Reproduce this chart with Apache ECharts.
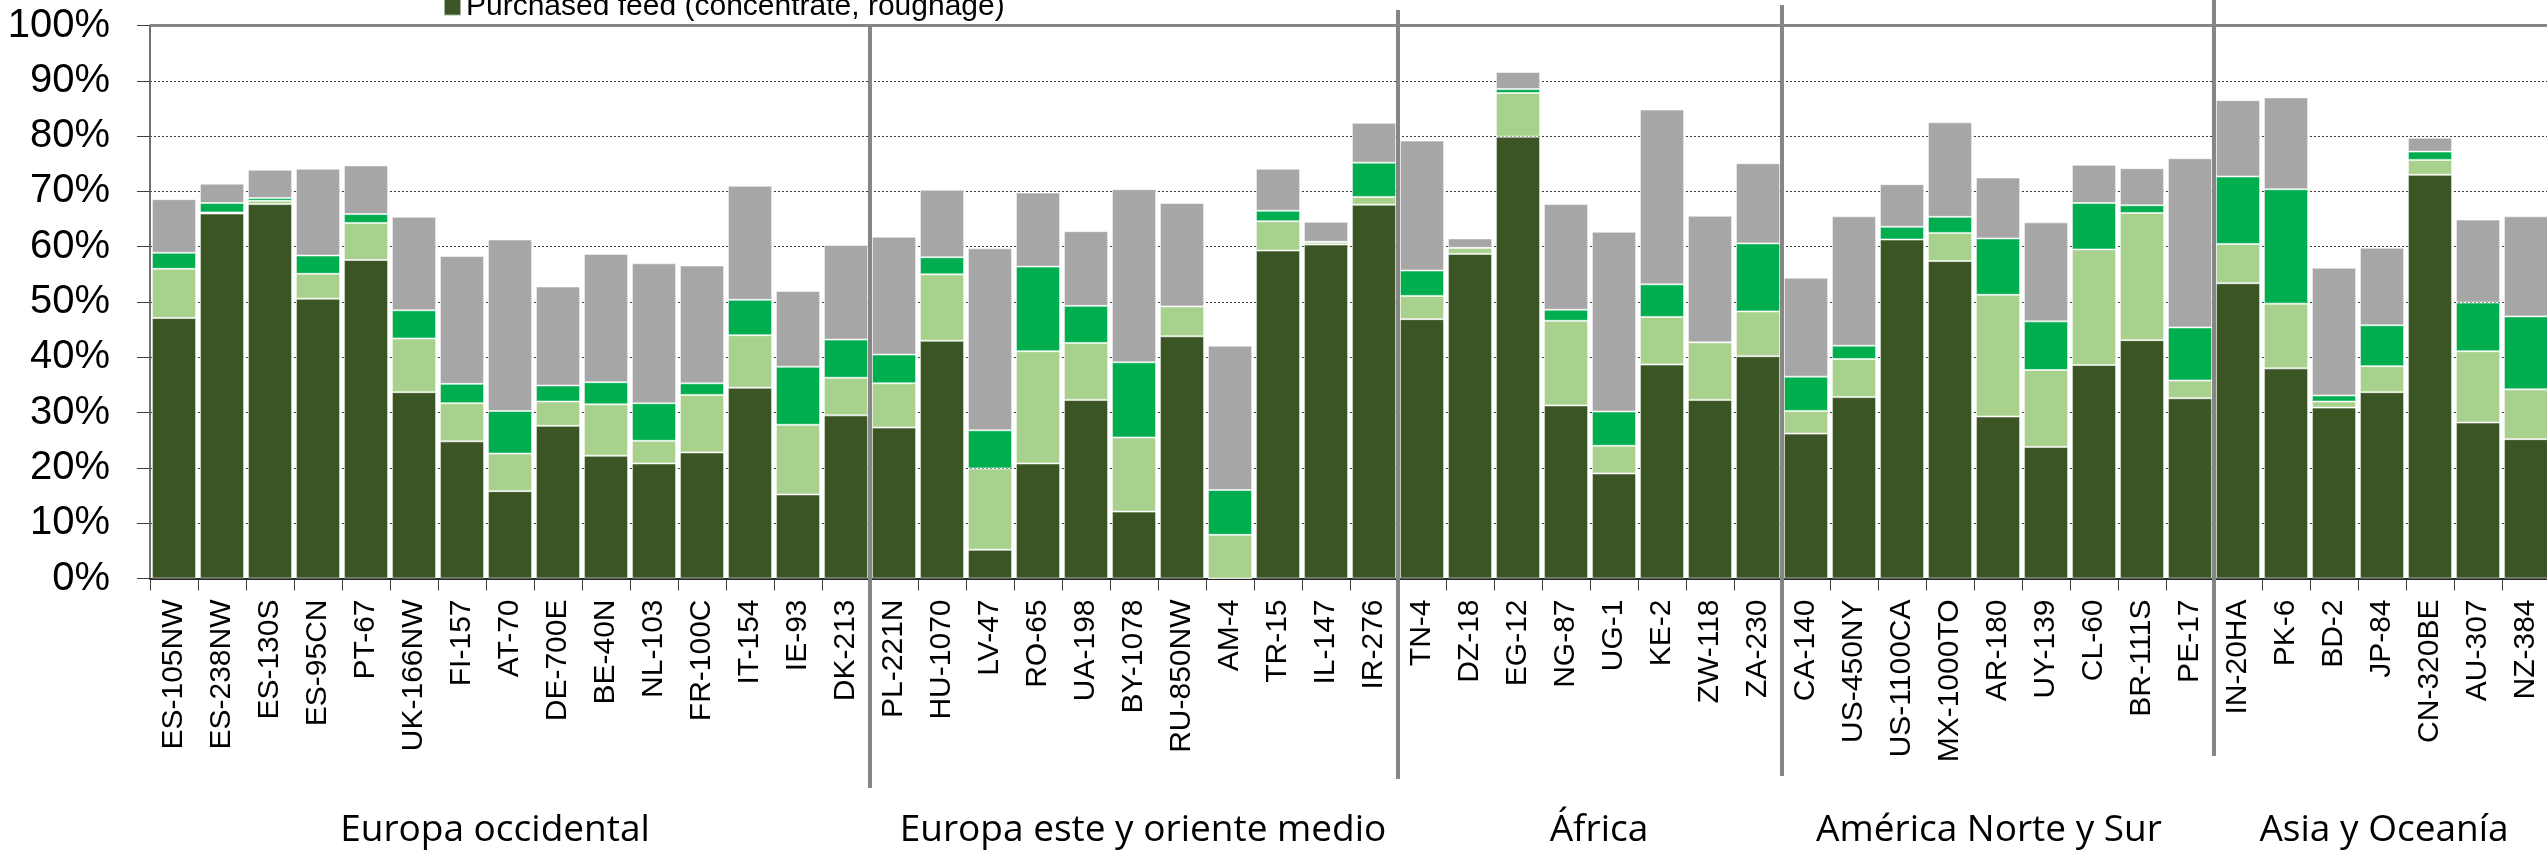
<!DOCTYPE html>
<html>
<head>
<meta charset="utf-8">
<script src="https://cdn.jsdelivr.net/npm/echarts@6/dist/echarts.min.js"></script>
<style>
html,body{margin:0;padding:0;background:#ffffff;}
#c{width:2547px;height:852px;}
</style>
</head>
<body>
<div id="c"></div>
<script>
// ---------- DATA ----------
const categories = [
  'ES-105NW','ES-238NW','ES-130S','ES-95CN','PT-67','UK-166NW','FI-157','AT-70','DE-700E','BE-40N','NL-103','FR-100C','IT-154','IE-93','DK-213',
  'PL-221N','HU-1070','LV-47','RO-65','UA-198','BY-1078','RU-850NW','AM-4','TR-15','IL-147','IR-276',
  'TN-4','DZ-18','EG-12','NG-87','UG-1','KE-2','ZW-118','ZA-230',
  'CA-140','US-450NY','US-1100CA','MX-1000TO','AR-180','UY-139','CL-60','BR-111S','PE-17',
  'IN-20HA','PK-6','BD-2','JP-84','CN-320BE','AU-307','NZ-384'
];

const seriesNames = ['Purchased feed (concentrate, roughage)', 'Feed component 2', 'Feed component 3', 'Feed component 4'];

// dark green segment
const purchasedFeed = [
  47.1,66.0,67.7,50.6,57.6,33.7,24.8,15.8,27.6,22.2,20.8,22.8,34.5,15.2,29.5,
  27.3,43.0,5.2,20.8,32.3,12.1,43.8,0.0,59.3,60.4,67.6,
  46.9,58.7,79.9,31.3,19.0,38.7,32.3,40.2,
  26.2,32.8,61.3,57.4,29.3,23.8,38.6,43.1,32.6,
  53.4,38.0,30.9,33.7,73.0,28.2,25.2
];
// light green segment
const lightGreen = [
  8.9,0.2,0.6,4.5,6.7,9.7,6.9,6.8,4.4,9.3,4.1,10.4,9.5,12.6,6.8,
  8.0,12.0,14.7,20.3,10.3,13.4,5.4,7.9,5.3,0.4,1.4,
  4.2,1.1,7.9,15.3,5.0,8.6,10.4,8.1,
  4.1,6.9,0.0,5.1,22.0,13.9,20.9,23.0,3.2,
  7.1,11.7,1.1,4.7,2.7,12.9,9.0
];
// bright green segment
const brightGreen = [
  2.9,1.7,0.5,3.3,1.6,5.1,3.5,7.7,2.9,4.0,6.8,2.1,6.4,10.5,6.9,
  5.2,3.1,6.9,15.3,6.7,13.6,0.0,8.1,1.9,0.1,6.2,
  4.6,0.0,0.7,2.0,6.2,5.9,0.0,12.3,
  6.2,2.4,2.3,2.9,10.2,8.8,8.4,1.4,9.6,
  12.2,20.7,1.1,7.4,1.5,8.8,13.2
];
// grey segment
const grey = [
  9.7,3.5,5.1,15.7,8.8,16.9,23.1,31.0,17.9,23.2,25.3,21.3,20.6,13.7,17.1,
  21.3,12.2,32.9,13.4,13.5,31.3,18.7,26.1,7.6,3.6,7.2,
  23.5,1.7,3.1,19.1,32.5,31.6,22.9,14.5,
  17.9,23.4,7.7,17.1,11.0,17.9,6.9,6.7,30.6,
  13.8,16.6,23.1,14.0,2.5,15.0,18.1
];

const groupNames = ['Europa occidental','Europa este y oriente medio','África','América Norte y Sur','Asia y Oceanía'];
const groupSizes = [15, 11, 8, 9, 7];

const yMin = 0, yMax = 100, yInterval = 10;

// ---------- STYLE / LAYOUT ----------
const colors = ['#3b5624', '#a9d18e', '#00ae4f', '#a6a6a6'];
const sepTop = [27, 10, 5, 0];
const sepBottom = [788, 779, 776, 756];
const groupLabelOffset = [-15, 9, 9, -9, 2];
const groupLabelY = 830;
const FONT = "'Liberation Sans', Arial, sans-serif";

const chart = echarts.init(document.getElementById('c'), null, {renderer: 'canvas'});

const segData = [purchasedFeed, lightGreen, brightGreen, grey];
const series = segData.map((arr, i) => {
  const s = {
    name: seriesNames[i],
    type: 'bar',
    stack: 'total',
    barCategoryGap: '8%',
    data: arr,
    itemStyle: {color: colors[i], borderColor: 'rgba(255,255,255,0.55)', borderWidth: 1},
    emphasis: {disabled: true},
    z: 2
  };
  if (i === 0) {
    s.markLine = {
      silent: true,
      symbol: 'none',
      label: {show: false},
      lineStyle: {color: '#868686', width: 3, type: 'solid'},
      data: [{yAxis: yMax}],
      z: 5
    };
  }
  return s;
});

chart.setOption({
  animation: false,
  backgroundColor: '#ffffff',
  textStyle: {fontFamily: FONT},
  legend: {
    data: [seriesNames[0]],
    left: 438,
    top: -13,
    icon: 'rect',
    itemWidth: 17,
    itemHeight: 17,
    selectedMode: false,
    textStyle: {fontSize: 30, color: '#000000', fontFamily: FONT}
  },
  grid: {
    left: 150,
    top: 25.5,
    width: 2400,
    height: 553,
    containLabel: false,
    outerBoundsMode: 'none'
  },
  xAxis: {
    type: 'category',
    data: categories,
    boundaryGap: true,
    axisLine: {show: true, lineStyle: {color: '#262626', width: 2}},
    axisTick: {show: true, length: 12, lineStyle: {color: '#404040', width: 1}},
    axisLabel: {
      interval: 0,
      rotate: 90,
      margin: 21,
      fontSize: 30,
      color: '#000000',
      fontFamily: FONT
    },
    splitLine: {show: false}
  },
  yAxis: {
    type: 'value',
    min: yMin,
    max: yMax,
    interval: yInterval,
    axisLine: {show: true, lineStyle: {color: '#707070', width: 2}},
    axisTick: {show: true, length: 13, lineStyle: {color: '#404040', width: 1}},
    axisLabel: {
      formatter: '{value}%',
      fontSize: 40,
      margin: 40,
      color: '#000000',
      fontFamily: FONT
    },
    splitLine: {show: true, lineStyle: {color: '#3a3a3a', width: 1, type: [2, 2]}}
  },
  series: series
});

// separators and group labels, positioned through the category axis
function catX(idx) {
  return chart.convertToPixel({xAxisIndex: 0}, categories[idx]);
}
const band = catX(1) - catX(0);
const graphics = [];
let start = 0;
groupSizes.forEach((n, g) => {
  const first = start, last = start + n - 1;
  const cx = (catX(first) + catX(last)) / 2 + groupLabelOffset[g];
  graphics.push({
    type: 'text',
    x: cx,
    y: groupLabelY,
    silent: true,
    style: {
      text: groupNames[g],
      fontSize: 37,
      fontFamily: "'Open Sans', 'Noto Sans', sans-serif",
      fill: '#000000',
      align: 'center',
      verticalAlign: 'middle'
    }
  });
  if (g < groupSizes.length - 1) {
    const bx = catX(last) + band / 2;
    graphics.push({
      type: 'line',
      silent: true,
      z: 10,
      shape: {x1: bx, y1: sepTop[g], x2: bx, y2: sepBottom[g]},
      style: {stroke: '#868686', lineWidth: 4}
    });
  }
  start += n;
});
chart.setOption({graphic: graphics});
</script>
</body>
</html>
